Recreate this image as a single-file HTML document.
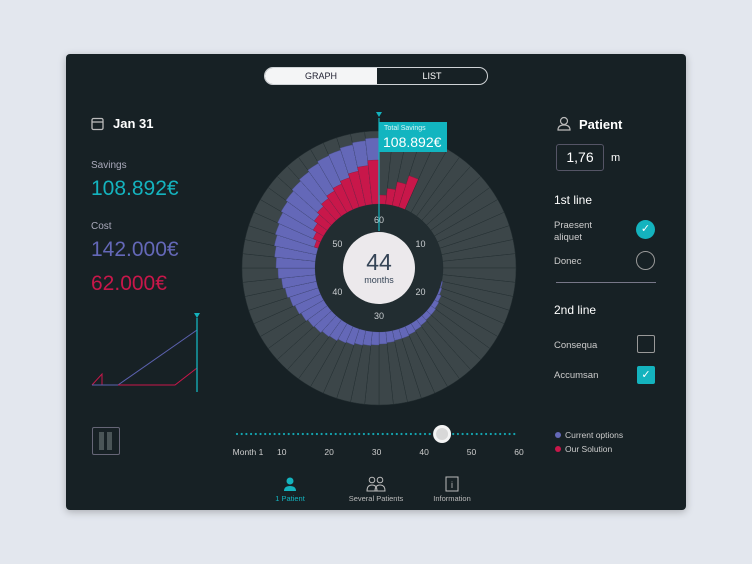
<!DOCTYPE html>
<html><head><meta charset="utf-8"><style>
body{margin:0;width:752px;height:564px;background:#e3e7ee;font-family:"Liberation Sans",sans-serif;overflow:hidden;position:relative}
.card{position:absolute;left:66px;top:54px;width:620px;height:456px;background:#172125;border-radius:4px;box-shadow:0 2px 8px rgba(0,0,0,.25)}
.a{position:absolute;white-space:nowrap}
</style></head><body>
<div class="card"></div>
<div class="a" style="left:264px;top:67px;width:222px;height:16px;border:1px solid #cfd3d6;border-radius:9px;overflow:hidden;font-size:9px">
 <div class="a" style="left:0;top:0;width:112px;height:16px;background:#f4f5f6;color:#223;text-align:center;line-height:16px">GRAPH</div>
 <div class="a" style="left:112px;top:0;width:110px;height:16px;color:#fff;text-align:center;line-height:16px">LIST</div>
</div>
<svg class="a" style="left:91px;top:117px" width="14" height="14"><rect x="1" y="1.5" width="11" height="11" rx="1.5" fill="none" stroke="#bbb" stroke-width="1.3"/><line x1="1" y1="5" x2="12" y2="5" stroke="#bbb" stroke-width="1.3"/></svg>
<div class="a" style="left:113px;top:116px;color:#fff;font-size:13px;font-weight:bold">Jan 31</div>
<div class="a" style="left:91px;top:160px;color:#aab;font-size:10px">Savings</div>
<div class="a" style="left:91px;top:177px;color:#14b3be;font-size:21px">108.892€</div>
<div class="a" style="left:91px;top:221px;color:#aab;font-size:10px">Cost</div>
<div class="a" style="left:91px;top:238px;color:#6468b8;font-size:21px">142.000€</div>
<div class="a" style="left:91px;top:272px;color:#c8174a;font-size:21px">62.000€</div>
<svg class="a" style="left:86px;top:310px" width="120" height="85">
 <polyline points="32,75 111,20" fill="none" stroke="#5c62b0" stroke-width="1"/>
 <polyline points="6,75 16,64 16,75 89,75 111,58" fill="none" stroke="#c8174a" stroke-width="1"/>
 <line x1="6" y1="75" x2="32" y2="75" stroke="#5c62b0" stroke-width="1"/>
 <line x1="111" y1="8" x2="111" y2="82" stroke="#14b3be" stroke-width="1.3"/>
 <polygon points="108,3 114,3 111,8" fill="#14b3be"/>
</svg>
<div class="a" style="left:92px;top:427px;width:26px;height:26px;border:1px solid #667;border-radius:2px">
 <div class="a" style="left:6px;top:4px;width:5px;height:18px;background:#4a5557"></div><div class="a" style="left:14px;top:4px;width:5px;height:18px;background:#4a5557"></div>
</div>
<svg id="radial" class="a" style="left:0;top:0" width="752" height="564"></svg>
<div class="a" style="left:379px;top:122px;width:68px;height:30px;background:#12b5c0;color:#fff">
 <div class="a" style="left:5px;top:3px;font-size:7px;color:#d8f4f6">Total Savings</div>
 <div class="a" style="left:4px;top:12px;font-size:14px">108.892€</div>
</div>
<svg class="a" style="left:556px;top:116px" width="16" height="16"><circle cx="8" cy="5" r="3.5" fill="none" stroke="#bbb" stroke-width="1.2"/><path d="M2,14 Q2,9 8,9 Q14,9 14,14 Z" fill="none" stroke="#bbb" stroke-width="1.2"/></svg>
<div class="a" style="left:579px;top:117px;color:#fff;font-size:13px;font-weight:bold">Patient</div>
<div class="a" style="left:556px;top:144px;width:46px;height:25px;border:1px solid #556;border-radius:3px;color:#fff;font-size:14px;text-align:center;line-height:25px">1,76</div>
<div class="a" style="left:611px;top:152px;color:#fff;font-size:11px">m</div>
<div class="a" style="left:554px;top:193px;color:#fff;font-size:12px">1st line</div>
<div class="a" style="left:554px;top:220px;color:#ccc;font-size:9.5px;line-height:12px">Praesent<br>aliquet</div>
<div class="a" style="left:636px;top:220px;width:19px;height:19px;border-radius:50%;background:#14b3be;color:#fff;font-size:11px;text-align:center;line-height:19px">✓</div>
<div class="a" style="left:554px;top:256px;color:#ccc;font-size:9.5px">Donec</div>
<div class="a" style="left:636px;top:251px;width:17px;height:17px;border-radius:50%;border:1px solid #999"></div>
<div class="a" style="left:556px;top:282px;width:100px;height:1px;background:#778"></div>
<div class="a" style="left:554px;top:303px;color:#fff;font-size:12px">2nd line</div>
<div class="a" style="left:554px;top:340px;color:#ccc;font-size:9.5px">Consequa</div>
<div class="a" style="left:637px;top:335px;width:16px;height:16px;border:1px solid #999;border-radius:2px"></div>
<div class="a" style="left:554px;top:370px;color:#ccc;font-size:9.5px">Accumsan</div>
<div class="a" style="left:637px;top:366px;width:18px;height:18px;background:#14b3be;border-radius:2px;color:#fff;font-size:11px;text-align:center;line-height:18px">✓</div>
<svg id="slider" class="a" style="left:0;top:0" width="752" height="564"></svg>
<div class="a" style="left:555px;top:430px;color:#ccc;font-size:8.5px"><span style="display:inline-block;width:6px;height:6px;border-radius:50%;background:#6468b8;margin-right:4px"></span>Current options</div>
<div class="a" style="left:555px;top:444px;color:#ccc;font-size:8.5px"><span style="display:inline-block;width:6px;height:6px;border-radius:50%;background:#c8174a;margin-right:4px"></span>Our Solution</div>
<div class="a" style="left:270px;top:476px;width:40px;color:#14b3be;font-size:7.5px;text-align:center">
 <svg width="14" height="16" style="display:block;margin:0 auto 2px"><circle cx="7" cy="5" r="3.5" fill="#14b3be"/><path d="M1,15 Q1,10 7,10 Q13,10 13,15Z" fill="#14b3be"/></svg>1 Patient</div>
<div class="a" style="left:346px;top:476px;width:60px;color:#bbb;font-size:7.5px;text-align:center">
 <svg width="20" height="16" style="display:block;margin:0 auto 2px"><circle cx="6" cy="4" r="2.8" fill="none" stroke="#bbb"/><circle cx="14" cy="4" r="2.8" fill="none" stroke="#bbb"/><path d="M1,15 Q1,9 6,9 Q11,9 11,15Z M9,15 Q9,9 14,9 Q19,9 19,15Z" fill="none" stroke="#bbb"/></svg>Several Patients</div>
<div class="a" style="left:430px;top:476px;width:44px;color:#bbb;font-size:7.5px;text-align:center">
 <svg width="14" height="16" style="display:block;margin:0 auto 2px"><rect x="1" y="1" width="12" height="14" fill="none" stroke="#bbb"/><text x="7" y="12" font-size="9" fill="#bbb" text-anchor="middle" font-family="Liberation Sans">i</text></svg>Information</div>
<script>
const months = Array.from({length:60},(_,i)=>i+1);
const currentOptions = [0,0,0,0,0,0,0,0,0,0,0,0,0,0,0,0,0,1,2,4,5,6,6,7,8,9,10,10,11,12,13,14,15,17,18,20,21,23,24,26,28,30,32,34,37,39,41,43,45,47,49,51,53,55,57,59,60,62,64,66];
const ourSolution = [9,16,24,33,0,0,0,0,0,0,0,0,0,0,0,0,0,0,0,0,0,0,0,0,0,0,0,0,0,0,0,0,0,0,0,0,0,0,0,0,0,0,0,0,0,0,0,0,4,8,12,16,19,22,25,28,31,35,39,44];
const tickLabels = [10,20,30,40,50,60];
const sliderLabels = ["Month 1","10","20","30","40","50","60"];
const sliderTicks = [1,10,20,30,40,50,60];
const currentMonth = 44;

const NS="http://www.w3.org/2000/svg";
const cx=379, cy=268, r0=64, rMax=137, maxVal=73;
function rScale(v){return r0+(v/maxVal)*(rMax-r0);}
function ang(m){return ((m-1)/60)*2*Math.PI;}
function pt(a,r){return [cx+r*Math.sin(a), cy-r*Math.cos(a)];}
function wedge(m,r1,r2){
  const a1=ang(m), a2=ang(m+1);
  const p1=pt(a1,r1),p2=pt(a1,r2),p3=pt(a2,r2),p4=pt(a2,r1);
  return `M${p1}L${p2}A${r2},${r2} 0 0 1 ${p3}L${p4}A${r1},${r1} 0 0 0 ${p1}Z`;
}
const svg=document.getElementById('radial');
function add(par,tag,attrs){const e=document.createElementNS(NS,tag);for(const k in attrs)e.setAttribute(k,attrs[k]);par.appendChild(e);return e;}
months.forEach((m,i)=>{
  const bg=add(svg,'path',{d:wedge(m,r0,rMax),fill:'#3c4649',stroke:'#253033','stroke-width':0.5});
  
  
  if(currentOptions[i]>0){
    const b=add(svg,'path',{d:wedge(m,r0,rScale(currentOptions[i])),fill:'#6468b8',stroke:'#4a4f8f','stroke-width':0.4});
    
    
  }
  if(ourSolution[i]>0){
    const b=add(svg,'path',{d:wedge(m,r0,rScale(ourSolution[i])),fill:'#c8174a',stroke:'#8e1538','stroke-width':0.4});
    
    
  }
});
const inner=add(svg,'circle',{cx:cx,cy:cy,r:r0,fill:'#222d31'});


tickLabels.forEach(t=>{
  const a=(t%60)/60*2*Math.PI; const p=pt(a,48);
  const tx=add(svg,'text',{x:p[0],y:p[1]+3,'font-size':9,fill:'#c9cdd0','text-anchor':'middle','font-family':'Liberation Sans'});
  tx.textContent=t;
  
  
});
const ln=add(svg,'line',{x1:cx,y1:cy-37,x2:cx,y2:118,stroke:'#14b3be','stroke-width':1.2});


add(svg,'polygon',{points:`${cx-3},112 ${cx+3},112 ${cx},117`,fill:'#14b3be'});
const wc=add(svg,'circle',{cx:cx,cy:cy,r:36,fill:'#ece9ec'});


const n=add(svg,'text',{x:cx,y:cy+2,'font-size':23,fill:'#354456','text-anchor':'middle','font-family':'Liberation Sans'});
n.textContent=currentMonth;


const mt=add(svg,'text',{x:cx,y:cy+15,'font-size':9,fill:'#354456','text-anchor':'middle','font-family':'Liberation Sans'});
mt.textContent='months';



const sl=document.getElementById('slider');
const sx0=237, sx1=517;
function sX(m){return sx0+(m-1)/59*(sx1-sx0);}
for(let x=sx0;x<=sx1;x+=4.7){add(sl,'circle',{cx:x,cy:434,r:1.1,fill:'#14a5b0'});}
sliderTicks.forEach((m,i)=>{
  const tx=add(sl,'text',{x:sX(m)+(i==0?11:2),y:455,'font-size':8.5,fill:'#ccc','text-anchor':'middle','font-family':'Liberation Sans'});
  tx.textContent=sliderLabels[i];
  
  
});
const th=add(sl,'circle',{cx:sX(currentMonth)+1,cy:434,r:9,fill:'#f4f4f4'});


add(sl,'circle',{cx:sX(currentMonth)+1,cy:434,r:6,fill:'#d8d8d8'});
</script>
</body></html>
